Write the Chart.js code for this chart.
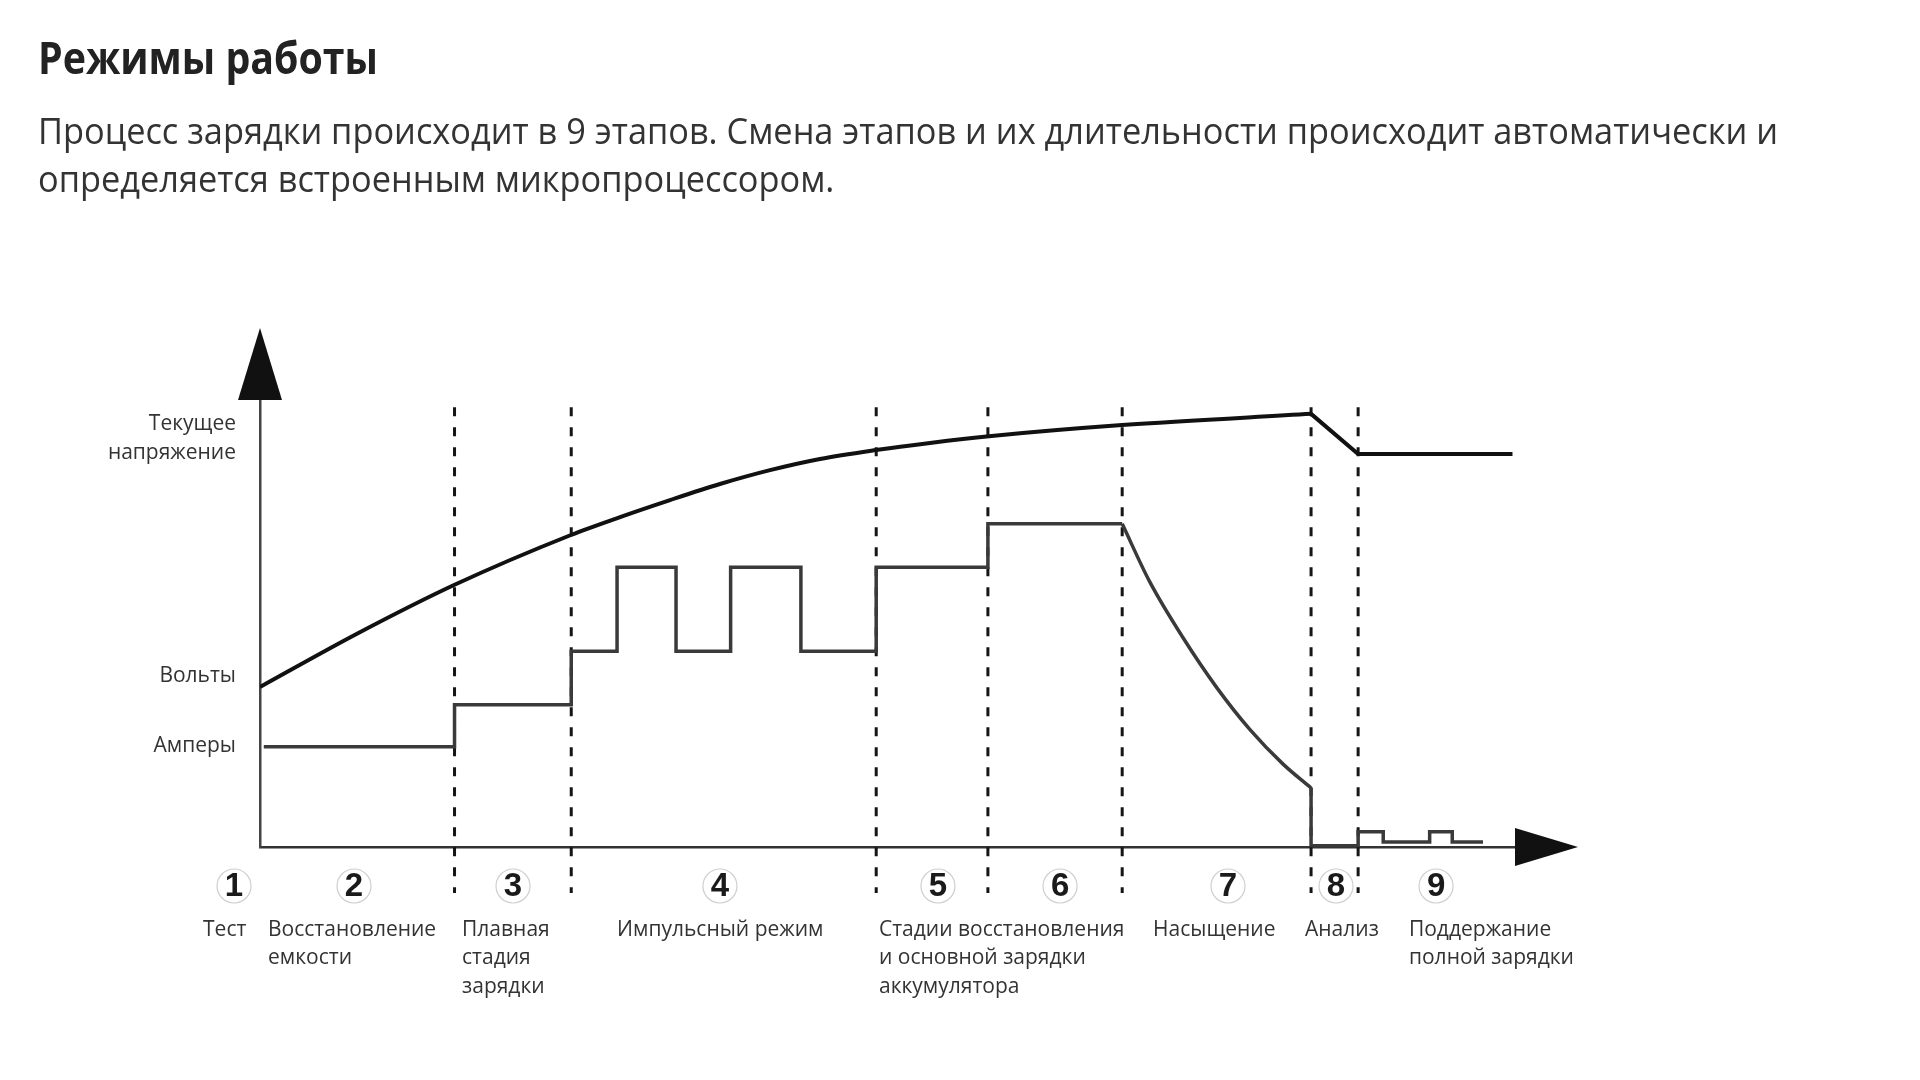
<!DOCTYPE html>
<html><head><meta charset="utf-8">
<script src="https://cdn.jsdelivr.net/npm/chart.js@4.4.0/dist/chart.umd.min.js"></script>
<style>
html,body{margin:0;padding:0;background:#fff;width:1920px;height:1080px;overflow:hidden}
#wrap{position:absolute;left:0;top:0;width:1920px;height:1080px}
.t{position:absolute;white-space:nowrap;font-family:"Open Sans",sans-serif;line-height:normal;transform-origin:0 0}
</style></head><body>
<div id="wrap"><canvas id="c"></canvas></div>
<div class="t" id="title" style="font-weight:700;color:#222">Режимы работы</div>
<div class="t" id="l1" style="color:#333">Процесс зарядки происходит в 9 этапов. Смена этапов и их длительности происходит автоматически и</div>
<div class="t" id="l2" style="color:#333">определяется встроенным микропроцессором.</div>
<script>
// ---- data (x: time units 0..100, y: level units 0..100) ----
const voltX = [0, 7.73, 15.46, 24.78, 28.69, 32.67, 36.65, 40.64, 44.62, 49.08, 53.39, 58.09, 68.69, 83.75, 87.5, 99.8];
const voltY = [35.8, 47.7, 58.6, 69.8, 73.8, 77.6, 81.2, 84.3, 86.8, 88.8, 90.4, 91.9, 94.4, 96.9, 87.9, 87.9];
const peakIndex = 13;
const ampStepX = [0.3, 15.5, 24.8, 28.45, 33.15, 37.5, 43.1, 49.1, 58.0, 68.7];
const ampStepY = [22.4, 31.8, 43.8, 62.6, 43.8, 62.6, 43.8, 62.6, 72.3, 72.3];
const decayX = [68.7, 70.9, 73.55, 76.25, 78.9, 81.5, 83.75];
const decayY = [72.3, 59.3, 46.8, 35.6, 26.2, 18.6, 13.2];
const tailX = [83.75, 83.75, 87.5, 89.5, 93.2, 95.0, 97.45];
const tailY = [13.2, 0.3, 3.4, 1.1, 3.4, 1.1, 1.1];
const stageBounds = [15.5, 24.8, 49.1, 58.0, 68.7, 83.75, 87.5];
const boundTop = 98.4, boundBottom = -10.3;
const yTickValues = [91.4, 38.3, 22.6];
const yTickLabels = [["Текущее", "напряжение"], "Вольты", "Амперы"];
const stageNumbers = ["1","2","3","4","5","6","7","8","9"];
const stageNumX = [-2.07, 7.49, 20.16, 36.65, 54.02, 63.75, 77.13, 85.74, 93.71];
const stageLabels = [["Тест"], ["Восстановление", "емкости"], ["Плавная", "стадия", "зарядки"], ["Импульсный режим"],
  ["Стадии восстановления", "и основной зарядки", "аккумулятора"], ["Насыщение"], ["Анализ"], ["Поддержание", "полной зарядки"]];
const stageLabelX = [-4.54, 0.64, 16.10, 28.45, 49.32, 71.16, 83.27, 91.55];

// ---- header text placement ----
function fitText(ids, left, baselines, width, size){
  const els = ids.map(id=>document.getElementById(id));
  els.forEach(el=>{ el.style.fontSize = size+'px'; });
  const w = els[0].getBoundingClientRect().width;
  const k = width/w;
  els.forEach((el,i)=>{ el.style.left=left+'px'; el.style.top=(baselines[i]-1.069*size)+'px'; el.style.transform='scaleX('+k+')'; });
}
fitText(['title'], 38, [74], 340, 45);
fitText(['l1','l2'], 38, [144, 192], 1740, 36);

const pts = (xs, ys) => xs.map((x,i)=>({x, y: ys[i]}));
const lineStyle = (c, w) => ({borderColor: c, borderWidth: w, pointRadius: 0, fill: false, borderCapStyle:'butt', borderJoinStyle:'miter'});

const datasets = [
  Object.assign({data: pts(voltX.slice(0,peakIndex+1), voltY.slice(0,peakIndex+1)), cubicInterpolationMode:'monotone'}, lineStyle('#111', 4)),
  Object.assign({data: pts(voltX.slice(peakIndex), voltY.slice(peakIndex)), tension:0}, lineStyle('#111', 4)),
  Object.assign({data: pts(ampStepX, ampStepY), stepped:true}, lineStyle('#3a3a3a', 3.5)),
  Object.assign({data: pts(decayX, decayY), cubicInterpolationMode:'monotone'}, lineStyle('#3a3a3a', 3.5)),
  Object.assign({data: pts(tailX, tailY), stepped:true}, lineStyle('#3a3a3a', 3.5)),
];
stageBounds.forEach(b=>{
  datasets.push(Object.assign({data:[{x:b,y:boundTop},{x:b,y:boundBottom}], borderDash:[9,11], clip:false, order:10}, lineStyle('#151515', 3)));
});

const decor = {
  id:'decor',
  afterDraw(chart){
    const {ctx, chartArea:a, scales:{x}} = chart;
    ctx.save();
    ctx.fillStyle='#111';
    ctx.beginPath(); ctx.moveTo(a.left-22,a.top); ctx.lineTo(a.left+22,a.top); ctx.lineTo(a.left,a.top-72); ctx.closePath(); ctx.fill();
    ctx.beginPath(); ctx.moveTo(a.right,a.bottom-19); ctx.lineTo(a.right,a.bottom+19); ctx.lineTo(a.right+63,a.bottom); ctx.closePath(); ctx.fill();
    stageNumbers.forEach((n,i)=>{
      const px = x.getPixelForValue(stageNumX[i]), py = a.bottom+39;
      ctx.beginPath(); ctx.arc(px,py,17,0,Math.PI*2); ctx.strokeStyle='#cfcfcf'; ctx.lineWidth=1.2; ctx.stroke();
      ctx.fillStyle='#1a1a1a'; ctx.font='bold 33px "Liberation Sans", Arial, sans-serif';
      ctx.textAlign='center'; ctx.textBaseline='middle'; ctx.fillText(n, px, py+1);
    });
    ctx.font='21px "Open Sans", sans-serif'; ctx.fillStyle='#333'; ctx.textAlign='left'; ctx.textBaseline='middle';
    stageLabels.forEach((lines,i)=>{
      const px = x.getPixelForValue(stageLabelX[i]);
      lines.forEach((s,j)=>ctx.fillText(s, px, a.bottom+83+j*28.5));
    });
    ctx.restore();
  }
};

new Chart(document.getElementById('c'), {
  type:'line',
  data:{datasets},
  plugins:[decor],
  options:{
    responsive:true, maintainAspectRatio:false, animation:false, events:[],
    layout:{padding:{left:0, top:400, right:405, bottom:0}},
    plugins:{legend:{display:false}, tooltip:{enabled:false}, title:{display:false}},
    scales:{
      x:{type:'linear', min:0, max:100, grid:{display:false}, ticks:{display:false},
         border:{display:true, color:'#333', width:2.5},
         afterFit(s){ s.height = 233; }},
      y:{type:'linear', min:0, max:100, grid:{display:false, drawTicks:false},
         border:{display:true, color:'#444', width:2.5},
         afterBuildTicks(s){ s.ticks = yTickValues.map(v=>({value:v})); },
         ticks:{autoSkip:false, padding:24, color:'#333', font:{family:'"Open Sans", sans-serif', size:21, lineHeight:1.36},
                callback:(v,i)=>yTickLabels[i]},
         afterFit(s){ s.width = 260; }}
    }
  }
});
</script>
</body></html>
